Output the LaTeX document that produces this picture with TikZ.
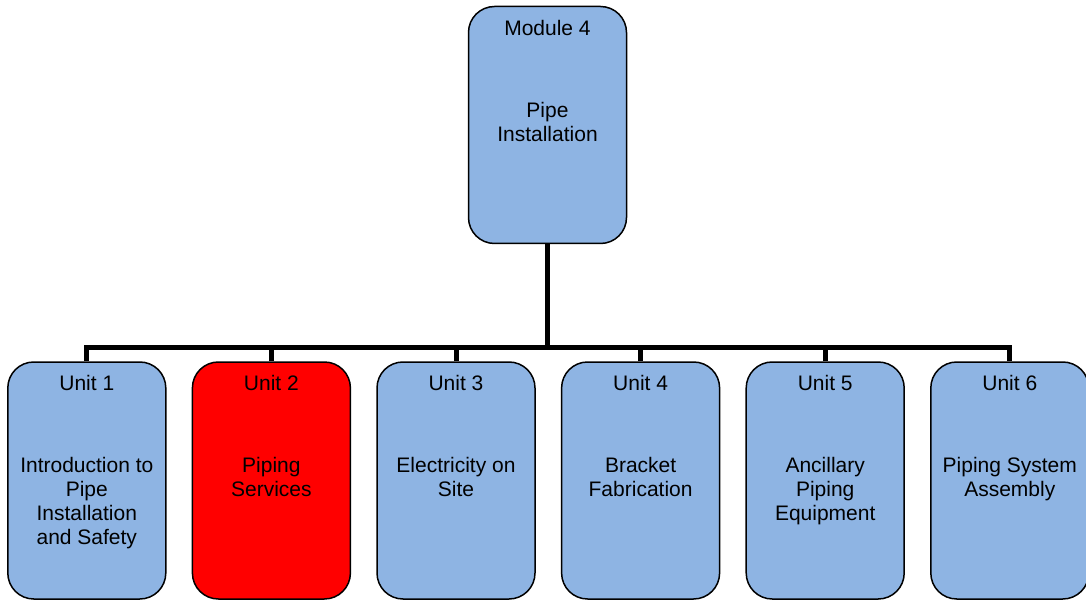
\documentclass[tikz,border=0pt]{standalone}
\usepackage{fontspec}
\setmainfont{Liberation Sans}
\usetikzlibrary{positioning}
\definecolor{boxblue}{HTML}{8EB4E3}
\definecolor{boxred}{HTML}{FF0000}
\tikzset{
    unitbox/.style={draw,line width=1.5pt,rounded corners=26pt,fill=boxblue,
        minimum width=158pt,minimum height=237pt,inner sep=0pt},
    headtext/.style={anchor=north,inner sep=0pt,font=\fontsize{21}{24}\selectfont},
    bodytext/.style={anchor=north,inner sep=0pt,align=center,font=\fontsize{21}{24}\selectfont},
    conn/.style={line width=5pt}
}
\begin{document}
\begin{tikzpicture}[x=1pt,y=-1pt]
            \useasboundingbox (0,0) rectangle (1086,601);
            \clip (0,0) rectangle (1086,601);
            % Nodes
            \node[unitbox] (M) at (547.5,125){};
            \node[unitbox] (U1) at (86.8,480.5){};
            \node[unitbox,fill=boxred] (U2) at (271.4,480.5){};
            \node[unitbox] (U3) at (456,480.5){};
            \node[unitbox] (U4) at (640.6,480.5){};
            \node[unitbox] (U5) at (825.2,480.5){};
            \node[unitbox] (U6) at (1009.8,480.5){};
            \coordinate (bus) at (547.5,347.5);
            % Texts
            \node[headtext,below=14pt of M.north] (Mh){Module 4};
            \node[bodytext,below=96pt of M.north] (Mb){Pipe\\Installation};
            \node[headtext,below=14pt of U1.north] (U1h){Unit 1};
            \node[bodytext,below=96pt of U1.north] (U1b){Introduction to\\Pipe\\Installation\\and Safety};
            \node[headtext,below=14pt of U2.north] (U2h){Unit 2};
            \node[bodytext,below=96pt of U2.north] (U2b){Piping\\Services};
            \node[headtext,below=14pt of U3.north] (U3h){Unit 3};
            \node[bodytext,below=96pt of U3.north] (U3b){Electricity on\\Site};
            \node[headtext,below=14pt of U4.north] (U4h){Unit 4};
            \node[bodytext,below=96pt of U4.north] (U4b){Bracket\\Fabrication};
            \node[headtext,below=14pt of U5.north] (U5h){Unit 5};
            \node[bodytext,below=96pt of U5.north] (U5b){Ancillary\\Piping\\Equipment};
            \node[headtext,below=14pt of U6.north] (U6h){Unit 6};
            \node[bodytext,below=96pt of U6.north] (U6b){Piping System\\Assembly};
            % Edges
            \path[draw,conn] (M.south) to (bus);
            \foreach \i in {1,...,6}
                \path[draw,conn] (U\i.north) |- (bus);
        \end{tikzpicture}
\end{document}
